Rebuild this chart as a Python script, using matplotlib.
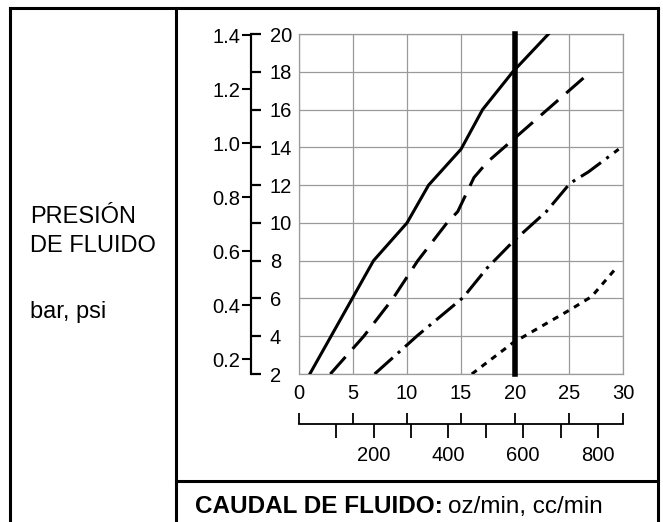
import matplotlib
matplotlib.use("Agg")
import matplotlib.pyplot as plt
from matplotlib.lines import Line2D

plt.rcParams['font.family'] = ['Liberation Sans', 'DejaVu Sans']

# flow (oz/min) vs fluid pressure (psi) curves
solid_oz = [1.0, 6.9, 10.0, 12.0, 15.0, 17.0, 19.8, 23.1]
solid_psi = [2.0, 8.0, 10.0, 12.0, 13.9, 16.0, 18.0, 20.0]

dash_oz = [2.9, 6.0, 8.7, 11.0, 13.7, 14.7, 16.2, 17.4, 20.0, 26.8]
dash_psi = [2.0, 4.0, 6.0, 8.0, 10.0, 10.6, 12.4, 13.2, 14.5, 17.9]

dashdot_oz = [7.0, 11.0, 15.2, 17.4, 19.8, 22.9, 25.1, 26.8, 29.6]
dashdot_psi = [2.0, 4.05, 6.05, 7.6, 9.0, 10.6, 12.1, 12.7, 13.9]

dot_oz = [16.0, 19.8, 25.1, 27.1, 29.5]
dot_psi = [2.0, 3.65, 5.4, 6.1, 7.7]

highlight_oz = 20

oz_ticks = [0, 5, 10, 15, 20, 25, 30]
psi_ticks = [2, 4, 6, 8, 10, 12, 14, 16, 18, 20]
bar_ticks = [0.2, 0.4, 0.6, 0.8, 1.0, 1.2, 1.4]
bar_labels = ['0.2', '0.4', '0.6', '0.8', '1.0', '1.2', '1.4']
cc_ticks = [100, 200, 300, 400, 500, 600, 700, 800]
cc_labels = ['', '200', '', '400', '', '600', '', '800']
cc_per_oz = 28.9
bar_range = (0.145, 1.404)  # bar scale matching psi 2..20 on the chart

W, H = 663, 522


def fx(px):
    return px / W


def fy(py):
    return 1 - py / H


fig = plt.figure(figsize=(W / 100, H / 100), dpi=100)

# grid area in pixels
gx0, gx1, gy0, gy1 = 299, 623, 34, 374
rect = [fx(gx0), fy(gy1), (gx1 - gx0) / W, (gy1 - gy0) / H]
tick_fs = 14.5

ax = fig.add_axes(rect)
ax.set_xlim(0, 30)
ax.set_ylim(2, 20)
ax.set_xticks(oz_ticks)
ax.set_yticks(psi_ticks)
ax.set_yticklabels([])
ax.grid(True, color='#9a9a9a', lw=0.9)
for s in ax.spines.values():
    s.set_color('#9a9a9a')
    s.set_linewidth(0.9)
ax.tick_params(length=0, labelsize=tick_fs, pad=7)

lw = 2.2
ax.plot(solid_oz, solid_psi, color='black', lw=lw, zorder=3)
ax.plot(dash_oz, dash_psi, color='black', lw=lw, ls=(0, (7.5, 3.5)), zorder=3)
ax.plot(dashdot_oz, dashdot_psi, color='black', lw=lw, ls=(0, (8, 2.2, 1, 2.2)), zorder=3)
ax.plot(dot_oz, dot_psi, color='black', lw=lw, ls=(0, (2, 2)), zorder=3)
ax.plot([highlight_oz, highlight_oz], [2, 20], color='black', lw=4, zorder=4,
        clip_on=False)

# psi scale (ticks to the right of a detached spine)
off = -(gx0 - 251) / (gx1 - gx0)
psi_ax = fig.add_axes(rect)
psi_ax.patch.set_visible(False)
psi_ax.set_ylim(2, 20)
psi_ax.set_xticks([])
for k, s in psi_ax.spines.items():
    s.set_visible(k == 'right')
psi_ax.spines['right'].set_position(('axes', off))
psi_ax.spines['right'].set_linewidth(1.5)
psi_ax.yaxis.tick_right()
psi_ax.set_yticks(psi_ticks)
psi_ax.tick_params(axis='y', direction='out', length=7.5, width=1.6, pad=6,
                   labelsize=tick_fs)

# bar scale (ticks to the left of the same spine)
bar_ax = fig.add_axes(rect)
bar_ax.patch.set_visible(False)
bar_ax.set_ylim(*bar_range)
bar_ax.set_xticks([])
for k, s in bar_ax.spines.items():
    s.set_visible(k == 'left')
bar_ax.spines['left'].set_position(('axes', off))
bar_ax.spines['left'].set_linewidth(1.5)
bar_ax.set_yticks(bar_ticks)
bar_ax.set_yticklabels(bar_labels)
bar_ax.tick_params(axis='y', direction='out', length=6.5, width=1.5, pad=1,
                   labelsize=tick_fs)

# cc/min bracket below the oz labels
cc_ax = fig.add_axes(rect)
cc_ax.patch.set_visible(False)
cc_ax.set_xlim(0, 30 * cc_per_oz)
cc_ax.set_yticks([])
for k, s in cc_ax.spines.items():
    s.set_visible(k == 'bottom')
cc_ax.spines['bottom'].set_position(('outward', 36))
cc_ax.spines['bottom'].set_linewidth(1.3)
cc_ax.set_xticks(cc_ticks)
cc_ax.set_xticklabels(cc_labels)
cc_ax.set_xticks([o * cc_per_oz for o in oz_ticks], minor=True)
cc_ax.tick_params(axis='x', which='major', direction='out', length=10, width=1.3,
                  pad=6, labelsize=tick_fs)
cc_ax.tick_params(axis='x', which='minor', direction='in', length=8, width=1.3)

# table frame
frame = dict(color='black', lw=2.2, solid_capstyle='projecting')
fig.add_artist(Line2D([fx(10), fx(658)], [fy(7.5), fy(7.5)], **frame))
fig.add_artist(Line2D([fx(10), fx(10)], [fy(7.5), 0], **frame))
fig.add_artist(Line2D([fx(176), fx(176)], [fy(7.5), 0], **frame))
fig.add_artist(Line2D([fx(658), fx(658)], [fy(7.5), 0], **frame))
fig.add_artist(Line2D([fx(176), fx(658)], [fy(481), fy(481)], **frame))

# left column labels
fig.text(fx(30), fy(223), 'PRESIÓN', fontsize=17, va='baseline')
fig.text(fx(30), fy(252), 'DE FLUIDO', fontsize=17, va='baseline')
fig.text(fx(30), fy(318), 'bar, psi', fontsize=17, va='baseline')

# bottom caption
t1 = fig.text(fx(195), fy(513), 'CAUDAL DE FLUIDO:', fontsize=17.5,
              fontweight='bold', va='baseline')
r = fig.canvas.get_renderer()
bb = t1.get_window_extent(r)
fig.text((bb.x1 + 5) / W, fy(513), 'oz/min, cc/min', fontsize=17.5, va='baseline')

fig.savefig('out.png', dpi=100)
